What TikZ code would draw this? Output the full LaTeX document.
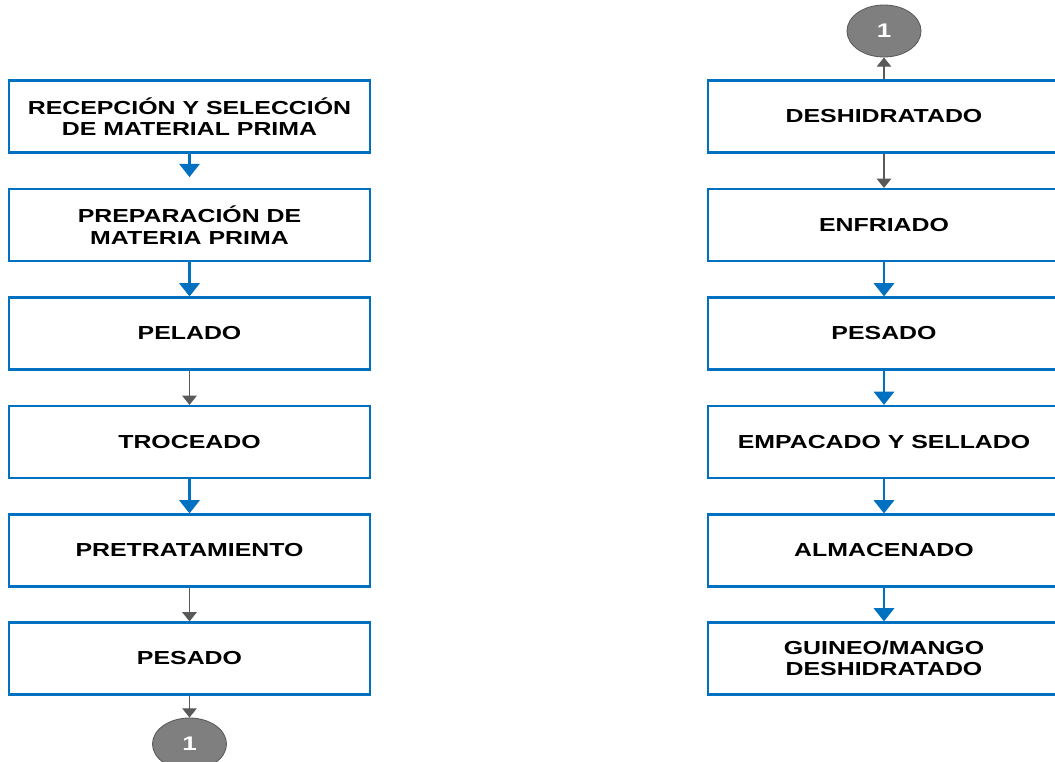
\documentclass[tikz,border=0pt]{standalone}
\usepackage{fontspec}
\usetikzlibrary{arrows.meta, shapes.geometric}
\newfontfamily\stepfont{Liberation Sans}[FakeStretch=1.32]
\definecolor{boxblue}{HTML}{0070C0}
\definecolor{linegray}{HTML}{595959}
\definecolor{fillgray}{HTML}{7F7F7F}

\begin{document}
\begin{tikzpicture}[
    x=0.025cm, y=-0.025cm,
    stepbox/.style={draw=boxblue, line width=1.5pt, minimum height=1.8cm,
        align=center, inner sep=2pt,
        font=\stepfont\bfseries\fontsize{13.4}{15.2}\selectfont},
    leftbox/.style={stepbox, minimum width=9.025cm},
    rightbox/.style={stepbox, minimum width=8.8cm},
    link/.style={ellipse, draw=linegray, line width=0.6pt, fill=fillgray,
        minimum width=1.85cm, minimum height=1.3cm, inner sep=0pt,
        text=white, font=\stepfont\bfseries\fontsize{14}{16}\selectfont},
    bluearrow/.style={draw=boxblue, line width=2.1pt,
        -{Triangle[width=0.5cm, length=0.33cm]}},
    grayarrow/.style={draw=linegray, line width=0.75pt,
        -{Triangle[width=0.36cm, length=0.23cm]}}
]
\useasboundingbox (0,0) rectangle (1055,762);

% left column
\begin{scope}[shift={(189.5,0)}]
\node (l1) [leftbox] at (0,116.5) {RECEPCIÓN Y SELECCIÓN\\DE MATERIAL PRIMA};
\node (l2) [leftbox] at (0,225) {PREPARACIÓN DE\\MATERIA PRIMA};
\node (l3) [leftbox] at (0,333.5) {PELADO};
\node (l4) [leftbox] at (0,442) {TROCEADO};
\node (l5) [leftbox] at (0,550.5) {PRETRATAMIENTO};
\node (l6) [leftbox] at (0,658.5) {PESADO};
\node (c1) [link] at (0,744) {1};
\end{scope}

% right column
\begin{scope}[shift={(884,0)}]
\node (c2) [link] at (0,31) {1};
\node (r1) [rightbox] at (0,116.5) {DESHIDRATADO};
\node (r2) [rightbox] at (0,225) {ENFRIADO};
\node (r3) [rightbox] at (0,333.5) {PESADO};
\node (r4) [rightbox] at (0,442) {EMPACADO Y SELLADO};
\node (r5) [rightbox] at (0,550.5) {ALMACENADO};
\node (r6) [rightbox] at (0,658.5) {GUINEO/MANGO\\DESHIDRATADO};
\end{scope}

\draw[bluearrow, shorten >=0.27cm] (l1) -- (l2);
\draw[bluearrow] (l2) -- (l3);
\draw[grayarrow] (l3) -- (l4);
\draw[bluearrow] (l4) -- (l5);
\draw[grayarrow] (l5) -- (l6);
\draw[grayarrow] (l6) -- (c1);

\draw[grayarrow] (r1) -- (c2);
\draw[grayarrow] (r1) -- (r2);
\draw[bluearrow] (r2) -- (r3);
\draw[bluearrow] (r3) -- (r4);
\draw[bluearrow] (r4) -- (r5);
\draw[bluearrow] (r5) -- (r6);

\end{tikzpicture}
\end{document}
